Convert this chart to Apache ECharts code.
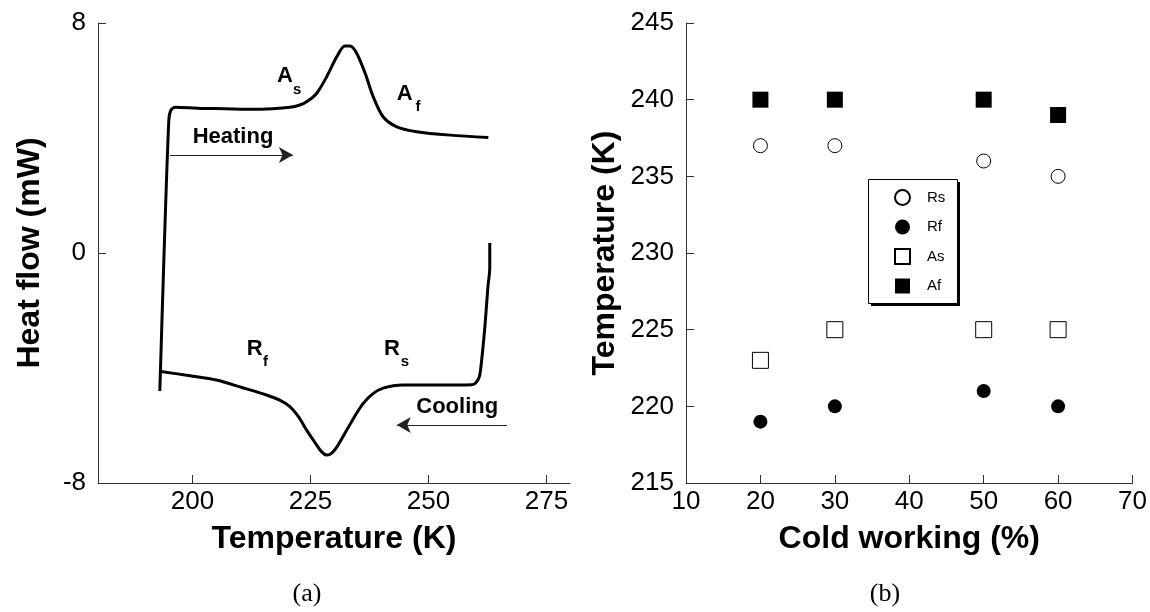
<!DOCTYPE html>
<html><head><meta charset="utf-8">
<script src="https://cdn.jsdelivr.net/npm/echarts@6/dist/echarts.min.js"></script>
<style>html,body{margin:0;padding:0;background:#fff}#c{width:1150px;height:612px}</style>
</head><body><div id="c"></div>
<script>
// ---- Panel (a): DSC curve ----
const heatingT  = [193.1, 194.0, 195.0, 195.4, 196.3, 201.6, 207.0, 212.2, 217.0, 220.7, 222.6, 224.2, 226.3, 228.45, 230.6, 232.3, 233.4, 234.8, 236.6, 238.3, 240.4, 243.3, 247.5, 254.6, 262.7];
const heatingHF = [-4.8, 0.0, 4.6, 4.95, 5.07, 5.03, 5.02, 5.0, 5.02, 5.07, 5.14, 5.26, 5.55, 6.13, 6.83, 7.2, 7.2, 6.95, 6.25, 5.44, 4.74, 4.39, 4.22, 4.1, 4.02];
const coolingT  = [263.0, 263.0, 262.6, 262.0, 261.3, 260.8, 260.0, 259.2, 252.0, 244.6, 240.4, 238.2, 236.2, 234.5, 232.7, 230.8, 229.6, 228.5, 227.3, 226.0, 224.2, 222.5, 220.7, 218.5, 215.7, 210.5, 205.1, 199.5, 193.3];
const coolingHF = [0.35, -0.5, -1.2, -2.5, -3.7, -4.3, -4.52, -4.58, -4.59, -4.59, -4.7, -4.9, -5.23, -5.65, -6.16, -6.7, -6.95, -7.03, -6.9, -6.6, -6.16, -5.7, -5.35, -5.12, -4.94, -4.68, -4.42, -4.27, -4.12];
const tempTicks = [200, 225, 250, 275];

// ---- Panel (b): transformation temperatures vs cold working ----
const coldWork = [20, 30, 50, 60];
const rsTemp = [237, 237, 236, 235];
const rfTemp = [219, 220, 221, 220];
const asTemp = [223, 225, 225, 225];
const afTemp = [240, 240, 240, 239];

const FONT = 'Liberation Sans, Arial, sans-serif';
const pair = (xs, ys) => xs.map((x, i) => [x, ys[i]]);

const axisLineStyle = {color: '#333', width: 1};
function valAxis(extra) {
  return Object.assign({
    type: 'value',
    nameLocation: 'middle',
    nameTextStyle: {fontFamily: FONT, fontSize: 32, fontWeight: 'bold', color: '#000'},
    axisLine: {show: true, onZero: false, lineStyle: axisLineStyle},
    axisTick: {show: true, inside: true, length: 8, lineStyle: axisLineStyle},
    axisLabel: {fontFamily: FONT, fontSize: 26, color: '#000'},
    splitLine: {show: false}
  }, extra);
}

const labelStyle = (size) => ({show: true, position: 'inside', fontFamily: FONT, fontWeight: 'bold', fontSize: size, color: '#000'});
function ann(text, coord, size) {
  return {coord: coord, value: text, label: Object.assign(labelStyle(size), {formatter: text})};
}

const option = {
  animation: false,
  backgroundColor: '#fff',
  grid: [
    {left: 98, top: 23, width: 472, height: 460},
    {left: 686, top: 23, width: 447, height: 460}
  ],
  xAxis: [
    valAxis({gridIndex: 0, min: 180, max: 280, name: 'Temperature (K)', nameGap: 40,
      axisTick: {show: true, inside: true, length: 8, lineStyle: axisLineStyle, customValues: tempTicks},
      axisLabel: {fontFamily: FONT, fontSize: 26, color: '#000', margin: 6, customValues: tempTicks}}),
    valAxis({gridIndex: 1, min: 10, max: 70, interval: 10, name: 'Cold working (%)', nameGap: 40,
      axisLabel: {fontFamily: FONT, fontSize: 26, color: '#000', margin: 6}})
  ],
  yAxis: [
    valAxis({gridIndex: 0, min: -8, max: 8, interval: 8, name: 'Heat flow (mW)', nameGap: 52,
      axisLabel: {fontFamily: FONT, fontSize: 26, color: '#000', margin: 12}}),
    valAxis({gridIndex: 1, min: 215, max: 245, interval: 5, name: 'Temperature (K)', nameGap: 65,
      axisLabel: {fontFamily: FONT, fontSize: 26, color: '#000', margin: 12}})
  ],
  legend: {
    data: ['Rs', 'Rf', 'As', 'Af'],
    orient: 'vertical', left: 868, top: 180, z: 10,
    padding: [9, 10, 9, 26], itemGap: 13, itemWidth: 15, itemHeight: 15,
    selectedMode: false,
    textStyle: {fontFamily: FONT, fontSize: 15, color: '#000', padding: [0, 0, 0, 12], lineHeight: 16}
  },
  graphic: [
    {type: 'rect', z: 1, shape: {x: 871, y: 182, width: 89, height: 124}, style: {fill: '#000'}},
    {type: 'rect', z: 2, shape: {x: 868.5, y: 179.5, width: 89, height: 124}, style: {fill: '#fff', stroke: '#000', lineWidth: 1}},
    {type: 'text', x: 307, y: 594, style: {text: '(a)', font: '26px "Liberation Serif", "Times New Roman", serif', fill: '#000', textAlign: 'center', textVerticalAlign: 'middle'}},
    {type: 'text', x: 885, y: 594, style: {text: '(b)', font: '26px "Liberation Serif", "Times New Roman", serif', fill: '#000', textAlign: 'center', textVerticalAlign: 'middle'}}
  ],
  series: [
    {
      type: 'line', name: 'heating', xAxisIndex: 0, yAxisIndex: 0,
      data: pair(heatingT, heatingHF), showSymbol: false, smooth: 0.3,
      lineStyle: {color: '#000', width: 3}, silent: true,
      markPoint: {
        symbol: 'circle', symbolSize: 0, silent: true,
        data: [
          ann('A', [219.6, 6.16], 22), ann('s', [222.2, 5.68], 15),
          ann('A', [245.0, 5.53], 22), ann('f', [247.8, 5.1], 15),
          ann('Heating', [208.6, 4.03], 22)
        ]
      },
      markLine: {
        silent: true, symbol: ['none', 'arrow'], symbolSize: [12, 14],
        label: {show: false},
        lineStyle: {color: '#222', width: 1, type: 'solid'},
        data: [[{coord: [195.25, 3.41]}, {coord: [221.3, 3.41]}]]
      }
    },
    {
      type: 'line', name: 'cooling', xAxisIndex: 0, yAxisIndex: 0,
      data: pair(coolingT, coolingHF), showSymbol: false, smooth: 0.3,
      lineStyle: {color: '#000', width: 3}, silent: true,
      markPoint: {
        symbol: 'circle', symbolSize: 0, silent: true,
        data: [
          ann('R', [213.2, -3.32], 22), ann('f', [215.5, -3.78], 15),
          ann('R', [242.3, -3.32], 22), ann('s', [245.0, -3.78], 15),
          ann('Cooling', [256.1, -5.36], 22)
        ]
      },
      markLine: {
        silent: true, symbol: ['none', 'arrow'], symbolSize: [12, 14],
        label: {show: false},
        lineStyle: {color: '#222', width: 1, type: 'solid'},
        data: [[{coord: [266.65, -5.98]}, {coord: [243.3, -5.98]}]]
      }
    },
    {type: 'scatter', name: 'Rs', xAxisIndex: 1, yAxisIndex: 1, symbol: 'circle', symbolSize: 14,
      itemStyle: {color: '#fff', borderColor: '#000', borderWidth: 1, opacity: 1}, data: pair(coldWork, rsTemp)},
    {type: 'scatter', name: 'Rf', xAxisIndex: 1, yAxisIndex: 1, symbol: 'circle', symbolSize: 14,
      itemStyle: {color: '#000', opacity: 1}, data: pair(coldWork, rfTemp)},
    {type: 'scatter', name: 'As', xAxisIndex: 1, yAxisIndex: 1, symbol: 'rect', symbolSize: 16,
      itemStyle: {color: '#fff', borderColor: '#000', borderWidth: 1, opacity: 1}, data: pair(coldWork, asTemp)},
    {type: 'scatter', name: 'Af', xAxisIndex: 1, yAxisIndex: 1, symbol: 'rect', symbolSize: 16,
      itemStyle: {color: '#000', opacity: 1}, data: pair(coldWork, afTemp)}
  ]
};

const chart = echarts.init(document.getElementById('c'), null, {renderer: 'canvas'});
chart.setOption(option);
</script></body></html>
